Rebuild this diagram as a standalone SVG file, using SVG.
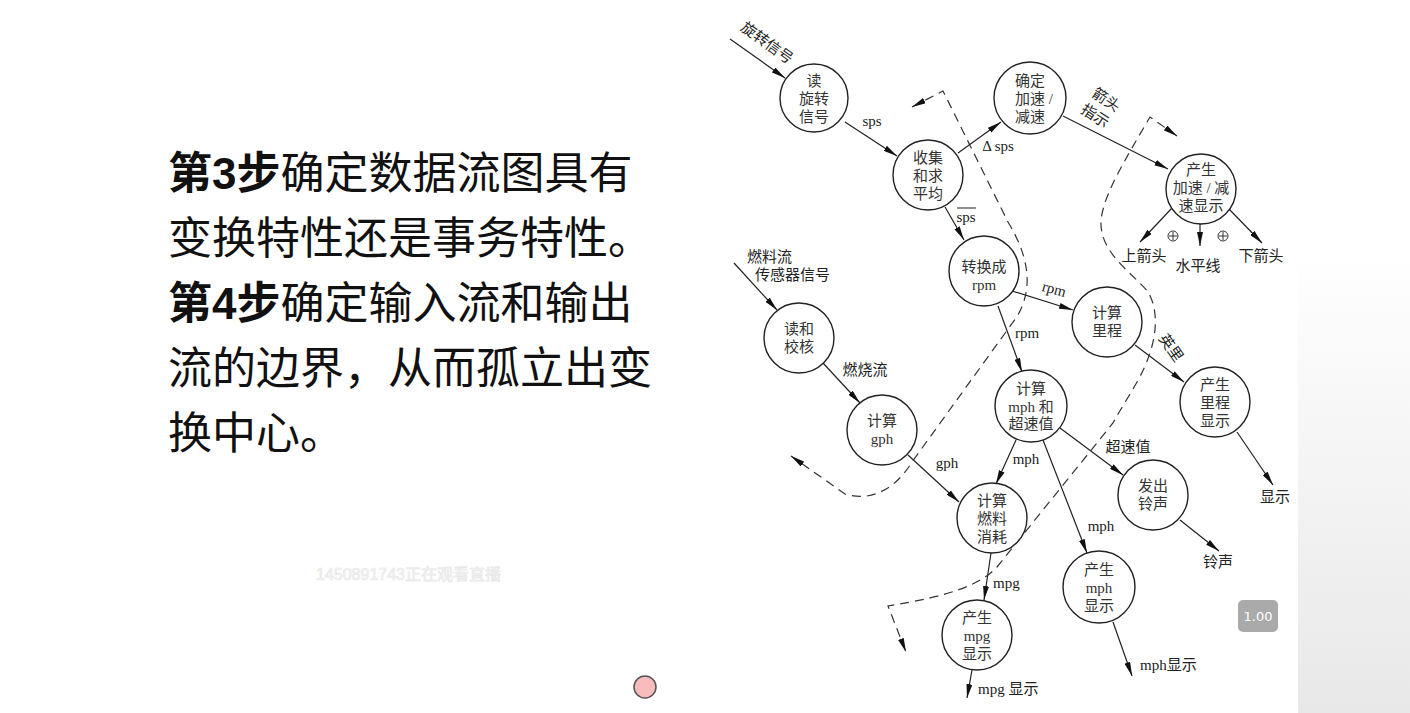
<svg xmlns="http://www.w3.org/2000/svg" width="1410" height="713" viewBox="0 0 1410 713">
<style>
.node circle{fill:#fff;stroke:#222;stroke-width:1.4}
.nt{font-family:"Liberation Serif","Noto Sans CJK SC",serif;font-size:15px;fill:#333;text-anchor:middle}
.lb{font-family:"Liberation Serif","Noto Sans CJK SC",serif;font-size:15px;fill:#222}
.e{stroke:#222;stroke-width:1.2;fill:none;marker-end:url(#arr)}
.d{stroke:#333;stroke-width:1.2;fill:none;stroke-dasharray:9 6;marker-start:url(#darr);marker-end:url(#darr)}
.big{font-family:"Noto Sans CJK SC","Liberation Sans",sans-serif;font-size:44px;fill:#111}
.wm{font-family:"Liberation Sans","Noto Sans CJK SC",sans-serif;font-size:16px;fill:#f5f5f5;stroke:#e6e6e6;stroke-width:0.6}
</style>
<defs>
<marker id="arr" viewBox="0 0 14 6" refX="14" refY="3" markerWidth="14" markerHeight="6" markerUnits="userSpaceOnUse" orient="auto"><path d="M0,0 L14,3 L0,6 z" fill="#111"/></marker>
<marker id="darr" viewBox="0 0 14 6" refX="14" refY="3" markerWidth="14" markerHeight="6" markerUnits="userSpaceOnUse" orient="auto-start-reverse"><path d="M0,0 L14,3 L0,6 z" fill="#111"/></marker>
<linearGradient id="bg" x1="0" y1="0" x2="0" y2="1"><stop offset="0.35" stop-color="#fff"/><stop offset="1" stop-color="#e8e8e8"/></linearGradient>
</defs>
<rect width="1410" height="713" fill="#fff"/>
<rect x="1298" y="0" width="112" height="713" fill="url(#bg)"/>

<g id="left-text">
<text class="big" x="168" y="189"><tspan font-weight="bold">第<tspan font-family="Liberation Sans">3</tspan>步</tspan>确定数据流图具有</text>
<text class="big" x="168" y="254">变换特性还是事务特性。</text>
<text class="big" x="168" y="319"><tspan font-weight="bold">第<tspan font-family="Liberation Sans">4</tspan>步</tspan>确定输入流和输出</text>
<text class="big" x="168" y="384">流的边界，从而孤立出变</text>
<text class="big" x="168" y="449">换中心。</text>
</g>

<g id="connectors">
<line class="e" x1="730" y1="39" x2="785" y2="78"/>
<line class="e" x1="845" y1="122" x2="897" y2="156"/>
<line class="e" x1="958" y1="153" x2="1001" y2="122"/>
<line class="e" x1="945" y1="207" x2="964" y2="240"/>
<line class="e" x1="1063" y1="116" x2="1168" y2="169"/>
<line class="e" x1="1172" y1="208" x2="1140" y2="242"/>
<line class="e" x1="1200" y1="223" x2="1200" y2="246"/>
<line class="e" x1="1228" y1="208" x2="1262" y2="243"/>
<line class="e" x1="1012" y1="291" x2="1073" y2="310"/>
<line class="e" x1="998" y1="306" x2="1022" y2="372"/>
<line class="e" x1="1135" y1="345" x2="1184" y2="382"/>
<line class="e" x1="1237" y1="432" x2="1273" y2="485"/>
<line class="e" x1="734" y1="263" x2="777" y2="310"/>
<line class="e" x1="823" y1="363" x2="860" y2="403"/>
<line class="e" x1="908" y1="455" x2="959" y2="502"/>
<line class="e" x1="1016" y1="440" x2="996" y2="484"/>
<line class="e" x1="1060" y1="428" x2="1123" y2="475"/>
<line class="e" x1="1043" y1="440" x2="1087" y2="553"/>
<line class="e" x1="1180" y1="520" x2="1219" y2="551"/>
<line class="e" x1="1113" y1="622" x2="1132" y2="676"/>
<line class="e" x1="991" y1="553" x2="984" y2="600"/>
<line class="e" x1="972" y1="670" x2="967" y2="698"/>
<path class="d" d="M912,107 L943,91 L1008,222 C1028,255 1035,288 1016,318 L912,462 C895,490 870,502 845,494 L791,456"/>
<path class="d" d="M1177,136 L1150,117 C1125,160 1100,200 1101,225 C1102,255 1135,275 1148,292 C1160,312 1158,345 1137,382 C1128,398 1120,410 1113,423 L997,567 C980,585 950,596 888,606 L906,652"/>
<g fill="none" stroke="#333" stroke-width="1">
<circle cx="1173" cy="236" r="5"/><path d="M1173,232V240M1169,236H1177"/>
<circle cx="1223" cy="236" r="5"/><path d="M1223,232V240M1219,236H1227"/>
</g>
</g>

<g id="edge-labels" class="lb">
<text x="767" y="48" text-anchor="middle" transform="rotate(36 767 43)">旋转信号</text>
<text x="872" y="126" text-anchor="middle">sps</text>
<text x="998" y="151" text-anchor="middle">Δ sps</text>
<text x="966" y="222" text-anchor="middle">sps</text>
<line x1="957" y1="208" x2="976" y2="208" stroke="#222" stroke-width="1"/>
<text x="1106" y="105" text-anchor="middle" transform="rotate(33 1106 100)">箭头</text>
<text x="1095" y="121" text-anchor="middle" transform="rotate(33 1095 116)">指示</text>
<text x="1144" y="261" text-anchor="middle">上箭头</text>
<text x="1198" y="271" text-anchor="middle">水平线</text>
<text x="1261" y="261" text-anchor="middle">下箭头</text>
<text x="1054" y="294" text-anchor="middle" transform="rotate(15 1054 290)">rpm</text>
<text x="1027" y="338" text-anchor="middle">rpm</text>
<text x="1171" y="353" text-anchor="middle" transform="rotate(55 1171 348)">英里</text>
<text x="1275" y="502" text-anchor="middle">显示</text>
<text x="747" y="262">燃料流</text>
<text x="755" y="280">传感器信号</text>
<text x="865" y="375" text-anchor="middle">燃烧流</text>
<text x="947" y="468" text-anchor="middle">gph</text>
<text x="1026" y="464" text-anchor="middle">mph</text>
<text x="1128" y="452" text-anchor="middle">超速值</text>
<text x="1101" y="531" text-anchor="middle">mph</text>
<text x="1218" y="567" text-anchor="middle">铃声</text>
<text x="1140" y="670">mph显示</text>
<text x="993" y="588">mpg</text>
<text x="978" y="694">mpg 显示</text>
</g>

<g id="n1" class="node"><circle cx="814" cy="98" r="34"/><text class="nt" x="814" y="86">读</text><text class="nt" x="814" y="104">旋转</text><text class="nt" x="814" y="122">信号</text></g>
<g id="n2" class="node"><circle cx="928" cy="175" r="35"/><text class="nt" x="928" y="163">收集</text><text class="nt" x="928" y="181">和求</text><text class="nt" x="928" y="199">平均</text></g>
<g id="n3" class="node"><circle cx="1030" cy="98" r="36"/><text class="nt" x="1030" y="86">确定</text><text class="nt" x="1034" y="104">加速 /</text><text class="nt" x="1030" y="122">减速</text></g>
<g id="n4" class="node"><circle cx="1201" cy="189" r="35"/><text class="nt" x="1201" y="175">产生</text><text class="nt" x="1201" y="193">加速 / 减</text><text class="nt" x="1201" y="211">速显示</text></g>
<g id="n5" class="node"><circle cx="984" cy="271" r="35"/><text class="nt" x="984" y="272">转换成</text><text class="nt" x="984" y="290">rpm</text></g>
<g id="n6" class="node"><circle cx="1107" cy="322" r="35"/><text class="nt" x="1107" y="318">计算</text><text class="nt" x="1107" y="336">里程</text></g>
<g id="n7" class="node"><circle cx="1031" cy="406" r="36"/><text class="nt" x="1031" y="394">计算</text><text class="nt" x="1031" y="412">mph 和</text><text class="nt" x="1031" y="429">超速值</text></g>
<g id="n8" class="node"><circle cx="1215" cy="402" r="35"/><text class="nt" x="1215" y="390">产生</text><text class="nt" x="1215" y="408">里程</text><text class="nt" x="1215" y="426">显示</text></g>
<g id="n9" class="node"><circle cx="799" cy="338" r="35"/><text class="nt" x="799" y="334">读和</text><text class="nt" x="799" y="352">校核</text></g>
<g id="n10" class="node"><circle cx="882" cy="430" r="35"/><text class="nt" x="882" y="426">计算</text><text class="nt" x="882" y="444">gph</text></g>
<g id="n11" class="node"><circle cx="992" cy="518" r="35"/><text class="nt" x="992" y="506">计算</text><text class="nt" x="992" y="524">燃料</text><text class="nt" x="992" y="542">消耗</text></g>
<g id="n12" class="node"><circle cx="1153" cy="495" r="35"/><text class="nt" x="1153" y="491">发出</text><text class="nt" x="1153" y="509">铃声</text></g>
<g id="n13" class="node"><circle cx="1099" cy="587" r="36"/><text class="nt" x="1099" y="575">产生</text><text class="nt" x="1099" y="593">mph</text><text class="nt" x="1099" y="611">显示</text></g>
<g id="n14" class="node"><circle cx="977" cy="635" r="35"/><text class="nt" x="977" y="623">产生</text><text class="nt" x="977" y="641">mpg</text><text class="nt" x="977" y="659">显示</text></g>

<g id="overlay">
<text class="wm" x="316" y="580">1450891743正在观看直播</text>
<rect x="1238" y="600" width="40" height="32" rx="5" fill="#aaaaaa"/>
<text x="1258" y="621" text-anchor="middle" font-family="DejaVu Sans,sans-serif" font-size="13" fill="#fff">1.00</text>
<circle cx="645" cy="687" r="11" fill="#f9bcbc" stroke="#555" stroke-width="1.5"/>
</g>
</svg>
